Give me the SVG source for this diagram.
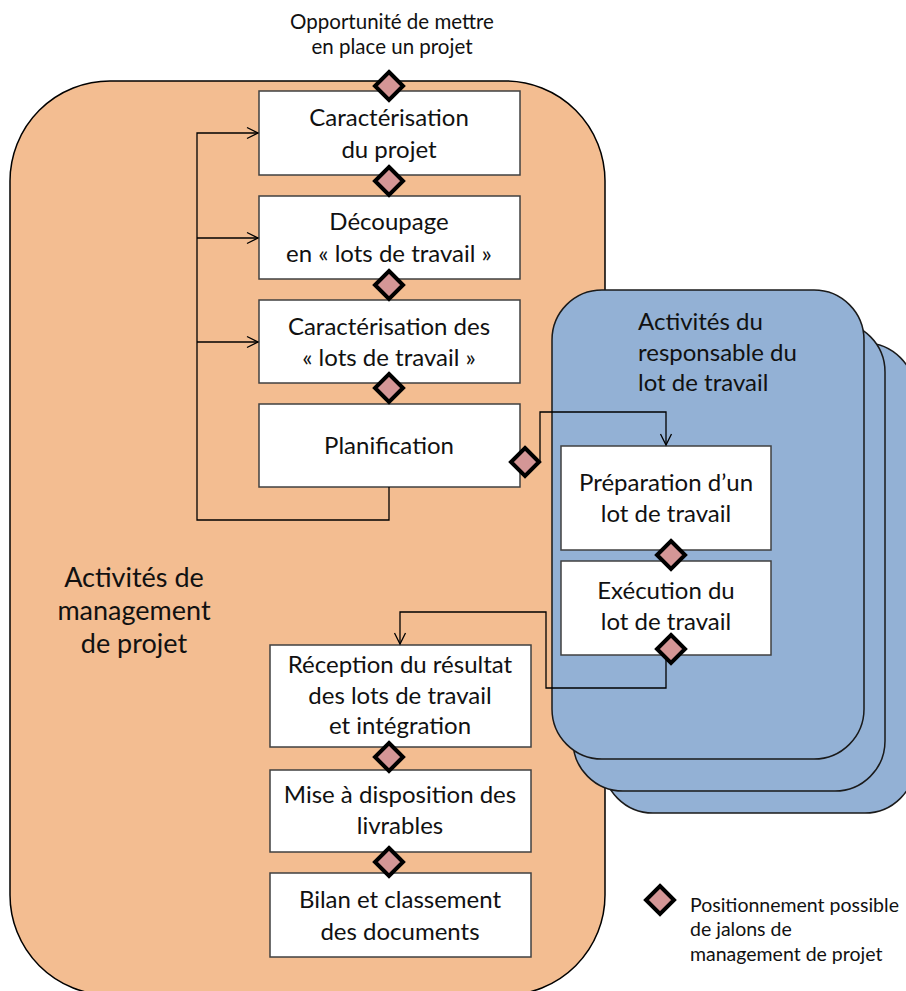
<svg xmlns="http://www.w3.org/2000/svg" width="906" height="991" viewBox="0 0 906 991">
<defs>
<style>
.t{font-family:Lato,"Liberation Sans",sans-serif;fill:#111;text-anchor:middle}
.b{font-size:24px}
.box{fill:#fff;stroke:#404040;stroke-width:1.5}
.ms{fill:#d49696;stroke:#000;stroke-width:4;stroke-linejoin:miter}
.con{fill:none;stroke:#000;stroke-width:1.3}
.blue{fill:#93b1d5;stroke:#1a1a1a;stroke-width:1.5}
</style>
<marker id="arr" markerUnits="userSpaceOnUse" markerWidth="14" markerHeight="14" refX="12" refY="6" orient="auto" viewBox="0 0 14 12">
<path d="M1,0.5 L12,6 L1,11.5" fill="none" stroke="#000" stroke-width="1.3"/>
</marker>
<path id="dia" d="M0,-14 L14,0 L0,14 L-14,0 Z"/>
</defs>

<g id="management">
<rect x="10" y="81" width="595" height="914" rx="100" ry="100" fill="#f3bd91" stroke="#000" stroke-width="1.5"/>
<text class="t" font-size="27" x="134" y="587">Activités de</text>
<text class="t" font-size="27" x="134" y="620">management</text>
<text class="t" font-size="27" x="134" y="653">de projet</text>
</g>

<g id="opportunite">
<text class="t" font-size="20.5" x="392" y="29">Opportunité de mettre</text>
<text class="t" font-size="20.5" x="392" y="54">en place un projet</text>
</g>

<g id="responsable">
<rect class="blue" x="603" y="343" width="312" height="470" rx="50" ry="50"/>
<rect class="blue" x="573" y="322" width="312" height="469" rx="50" ry="50"/>
<rect class="blue" x="552" y="290" width="312" height="469" rx="50" ry="50"/>
<text class="t" font-size="24" x="638" y="330" style="text-anchor:start">Activités du</text>
<text class="t" font-size="24" x="638" y="361" style="text-anchor:start">responsable du</text>
<text class="t" font-size="24" x="638" y="391" style="text-anchor:start">lot de travail</text>
</g>

<g id="caracterisation-projet">
<rect class="box" x="259" y="91" width="261" height="84"/>
<text class="t b" x="389" y="126">Caractérisation</text>
<text class="t b" x="389" y="158">du projet</text>
</g>

<g id="decoupage">
<rect class="box" x="259" y="196" width="261" height="83"/>
<text class="t b" x="389" y="230">Découpage</text>
<text class="t b" x="389" y="262">en « lots de travail »</text>
</g>

<g id="caracterisation-lots">
<rect class="box" x="259" y="300" width="261" height="83"/>
<text class="t b" x="389" y="335">Caractérisation des</text>
<text class="t b" x="389" y="366">« lots de travail »</text>
</g>

<g id="planification">
<rect class="box" x="259" y="404" width="261" height="83"/>
<text class="t b" x="389" y="454">Planification</text>
</g>

<g id="reception">
<rect class="box" x="270" y="645" width="261" height="102"/>
<text class="t b" x="400" y="673">Réception du résultat</text>
<text class="t b" x="400" y="704">des lots de travail</text>
<text class="t b" x="400" y="734">et intégration</text>
</g>

<g id="mise-a-disposition">
<rect class="box" x="270" y="770" width="261" height="82"/>
<text class="t b" x="400" y="803">Mise à disposition des</text>
<text class="t b" x="400" y="834">livrables</text>
</g>

<g id="bilan">
<rect class="box" x="270" y="873" width="261" height="84"/>
<text class="t b" x="400" y="908">Bilan et classement</text>
<text class="t b" x="400" y="940">des documents</text>
</g>

<g id="preparation">
<rect class="box" x="561" y="446" width="210" height="104"/>
<text class="t b" x="666" y="491">Préparation d’un</text>
<text class="t b" x="666" y="522">lot de travail</text>
</g>

<g id="execution">
<rect class="box" x="561" y="561" width="210" height="94"/>
<text class="t b" x="666" y="599">Exécution du</text>
<text class="t b" x="666" y="630">lot de travail</text>
</g>

<g id="connectors">
<path class="con" d="M389,487 V520 H197 V133 H258" marker-end="url(#arr)"/>
<path class="con" d="M197,238 H258" marker-end="url(#arr)"/>
<path class="con" d="M197,342 H258" marker-end="url(#arr)"/>
<path class="con" d="M540,462 V412 H666 V445" marker-end="url(#arr)"/>
<path class="con" d="M666,649 V688 H546 V612 H400 V644" marker-end="url(#arr)"/>
</g>

<g id="jalons">
<use href="#dia" class="ms" x="389" y="86"/>
<use href="#dia" class="ms" x="389" y="181"/>
<use href="#dia" class="ms" x="389" y="285"/>
<use href="#dia" class="ms" x="389" y="388"/>
<use href="#dia" class="ms" x="525" y="462"/>
<use href="#dia" class="ms" x="671" y="555"/>
<use href="#dia" class="ms" x="671" y="649"/>
<use href="#dia" class="ms" x="389" y="757"/>
<use href="#dia" class="ms" x="389" y="862"/>
</g>

<g id="legende">
<use href="#dia" class="ms" x="660" y="900"/>
<text class="t" font-size="19.5" x="690" y="912" style="text-anchor:start">Positionnement possible</text>
<text class="t" font-size="19.5" x="690" y="936" style="text-anchor:start">de jalons de</text>
<text class="t" font-size="19.5" x="690" y="961" style="text-anchor:start">management de projet</text>
</g>
</svg>
